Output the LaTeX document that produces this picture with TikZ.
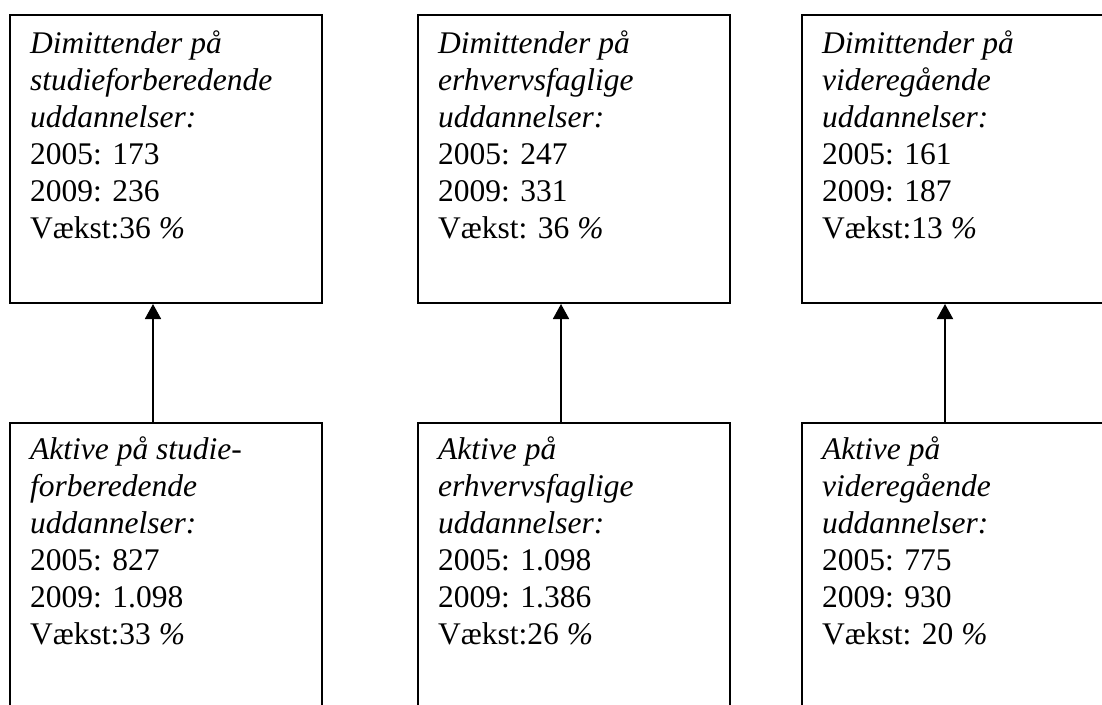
\documentclass[tikz,border=0pt]{standalone}
\usepackage{fontspec}
\setmainfont{Liberation Serif}
\usepackage{tikz}
\usetikzlibrary{arrows.meta,positioning}

\begin{document}
\begin{tikzpicture}[x=1pt,y=-1pt]
\tikzstyle{boks}=[rectangle,draw=black,line width=2pt,minimum width=312pt,minimum height=288pt,inner sep=0pt]
\tikzstyle{tekst}=[anchor=north west,align=left,inner sep=0pt,font=\fontsize{31.5}{37}\selectfont]
\tikzstyle{pil}=[-{Triangle[width=16pt,length=15pt]},line width=1.8pt]

\useasboundingbox (0,0) rectangle (1102,704);

\node [boks] (dim1) at(166,159) {};
\node [boks] (dim2) at(574,159) {};
\node [boks] (dim3) at(958,159) {};
\node [boks] (akt1) at(166,567) {};
\node [boks] (akt2) at(574,567) {};
\node [boks] (akt3) at(958,567) {};

\node [tekst] (dim1t) at([shift={(21pt,-13pt)}]dim1.north west) {\strut\textit{Dimittender på}\\\textit{studieforberedende}\\\textit{uddannelser:}\\2005: 173\\2009: 236\\Vækst:36 \textit{\%}};
\node [tekst] (dim2t) at([shift={(21pt,-13pt)}]dim2.north west) {\strut\textit{Dimittender på}\\\textit{erhvervsfaglige}\\\textit{uddannelser:}\\2005: 247\\2009: 331\\Vækst: 36 \textit{\%}};
\node [tekst] (dim3t) at([shift={(21pt,-13pt)}]dim3.north west) {\strut\textit{Dimittender på}\\\textit{videregående}\\\textit{uddannelser:}\\2005: 161\\2009: 187\\Vækst:13 \textit{\%}};
\node [tekst] (akt1t) at([shift={(21pt,-11pt)}]akt1.north west) {\strut\textit{Aktive på studie-}\\\textit{forberedende}\\\textit{uddannelser:}\\2005: 827\\2009: 1.098\\Vækst:33 \textit{\%}};
\node [tekst] (akt2t) at([shift={(21pt,-11pt)}]akt2.north west) {\strut\textit{Aktive på}\\\textit{erhvervsfaglige}\\\textit{uddannelser:}\\2005: 1.098\\2009: 1.386\\Vækst:26 \textit{\%}};
\node [tekst] (akt3t) at([shift={(21pt,-11pt)}]akt3.north west) {\strut\textit{Aktive på}\\\textit{videregående}\\\textit{uddannelser:}\\2005: 775\\2009: 930\\Vækst: 20 \textit{\%}};

\path ([xshift=144pt]akt1.north west) edge[pil] ([xshift=144pt]dim1.south west);
\path ([xshift=144pt]akt2.north west) edge[pil] ([xshift=144pt]dim2.south west);
\path ([xshift=144pt]akt3.north west) edge[pil] ([xshift=144pt]dim3.south west);
\end{tikzpicture}
\end{document}
